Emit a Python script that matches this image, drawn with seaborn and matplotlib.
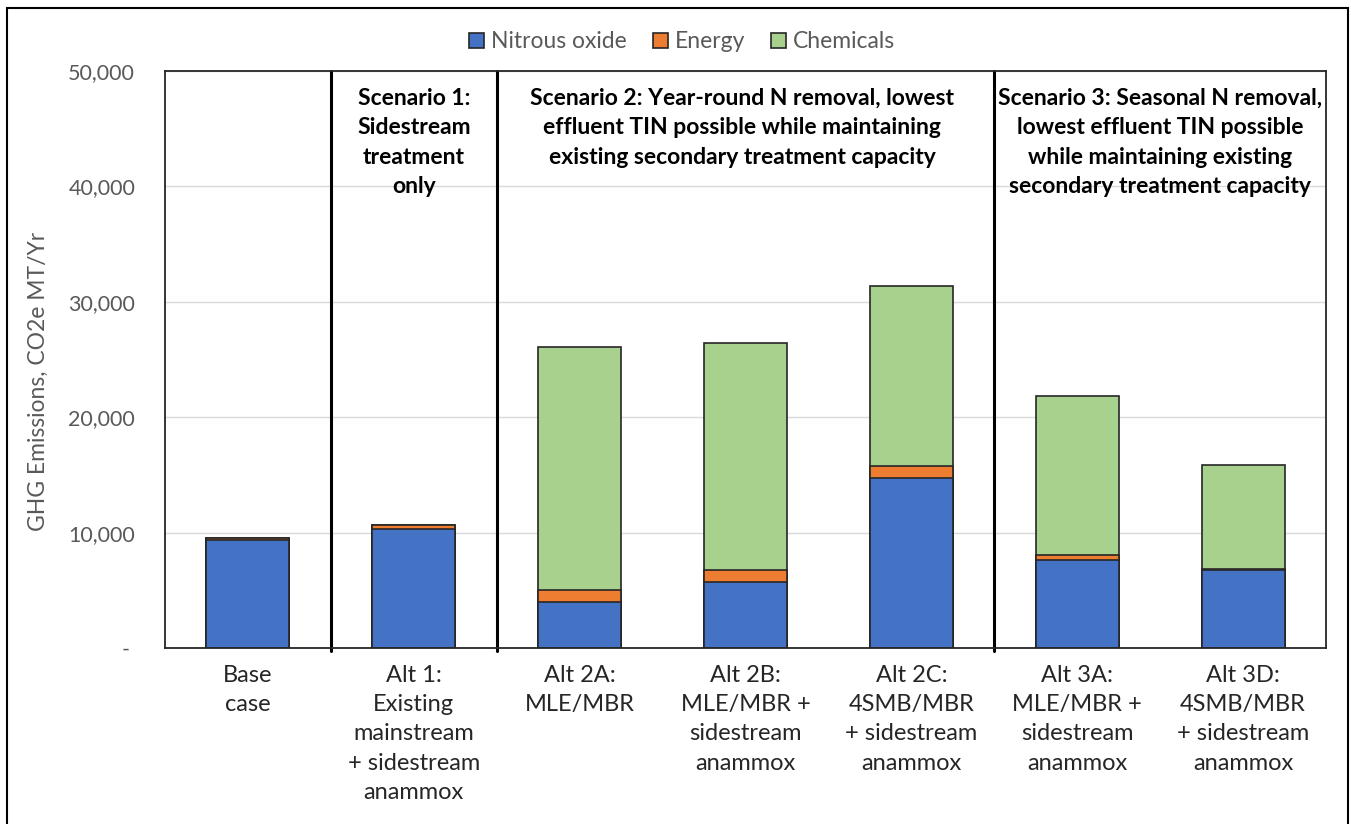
import numpy as np
import pandas as pd
import matplotlib.pyplot as plt
import seaborn as sns
from matplotlib.patches import Patch, Rectangle
from matplotlib.ticker import FuncFormatter

# ---------- Data (CO2e MT/Yr) ----------
categories = ["Base\ncase",
              "Alt 1:\nExisting\nmainstream\n+ sidestream\nanammox",
              "Alt 2A:\nMLE/MBR",
              "Alt 2B:\nMLE/MBR +\nsidestream\nanammox",
              "Alt 2C:\n4SMB/MBR\n+ sidestream\nanammox",
              "Alt 3A:\nMLE/MBR +\nsidestream\nanammox",
              "Alt 3D:\n4SMB/MBR\n+ sidestream\nanammox"]
nitrous_oxide = [9400, 10350, 4000, 5750, 14750, 7650, 6750]
energy = [120, 300, 1000, 1000, 1050, 450, 120]
chemicals = [0, 0, 21100, 19700, 15600, 13700, 9000]

scenario_labels = ["Scenario 1:\nSidestream\ntreatment\nonly",
                   "Scenario 2: Year-round N removal, lowest\neffluent TIN possible while maintaining\nexisting secondary treatment capacity",
                   "Scenario 3: Seasonal N removal,\nlowest effluent TIN possible\nwhile maintaining existing\nsecondary treatment capacity"]

series_colors = {"Nitrous oxide": "#4472C4", "Energy": "#ED7D31", "Chemicals": "#A9D18E"}

df = pd.DataFrame({"case": categories, "n2o": nitrous_oxide,
                   "energy": energy, "chem": chemicals})
df["lvl1"] = df["n2o"]
df["lvl2"] = df["n2o"] + df["energy"]
df["lvl3"] = df["lvl2"] + df["chem"]

# ---------- Style ----------
sns.set_style("white")
plt.rcParams["font.family"] = ["Lato", "DejaVu Sans"]
grey = "#595959"

W, H = 1351, 824
fig = plt.figure(figsize=(W / 100, H / 100), dpi=100)
ax = fig.add_axes([165 / W, 1 - 648 / H, (1326 - 165) / W, (648 - 71) / H])

# stacked bars: draw cumulative totals back to front
bar_kw = dict(width=0.5, edgecolor="#262626", linewidth=1.2, ax=ax, order=categories)
sns.barplot(data=df, x="case", y="lvl3", color=series_colors["Chemicals"], saturation=1, **bar_kw)
sns.barplot(data=df, x="case", y="lvl2", color=series_colors["Energy"], saturation=1, **bar_kw)
sns.barplot(data=df, x="case", y="lvl1", color=series_colors["Nitrous oxide"], saturation=1, **bar_kw)

ax.set_xlim(-0.5, len(categories) - 0.5)
ax.set_ylim(0, 50000)
ax.set_yticks(np.arange(0, 50001, 10000))
ax.yaxis.set_major_formatter(FuncFormatter(lambda v, p: "- " if v == 0 else f"{v:,.0f}"))
ax.grid(axis="y", color="#d9d9d9", linewidth=1)
ax.set_axisbelow(True)
ax.tick_params(axis="y", length=0, pad=21.5, labelsize=15.5, labelcolor=grey)
ax.tick_params(axis="x", length=0, pad=12, labelsize=17, labelcolor="#262626")
for lab in ax.get_xticklabels():
    lab.set_linespacing(1.49)
    lab.set_verticalalignment("top")
ax.set_xlabel("")
ax.set_ylabel("")
for s in ax.spines.values():
    s.set_visible(True)
    s.set_color("#262626")
    s.set_linewidth(1.3)

# scenario separators and titles
for xs in [0.5, 1.5, 4.5]:
    ax.axvline(xs, ymin=-0.005, ymax=1, color="black", linewidth=2.2, clip_on=False)
span_centers = [1.0, 2.98, 5.5]
for xc, txt in zip(span_centers, scenario_labels):
    ax.text(xc, (648 - 88) / 577, txt, transform=ax.get_xaxis_transform(),
            ha="center", va="top", fontsize=16.5, fontweight="bold",
            linespacing=1.49, color="black")

fig.text(38 / W, 1 - 381 / H, "GHG Emissions, CO2e MT/Yr", rotation=90,
         ha="center", va="center", fontsize=16.5, color=grey)

handles = [Patch(facecolor=c, edgecolor="#262626", linewidth=1.2, label=k)
           for k, c in series_colors.items()]
leg = fig.legend(handles=handles, loc="center", bbox_to_anchor=(682 / W, 1 - 42 / H),
                 ncol=3, frameon=False, fontsize=16.5, handlelength=0.65,
                 handleheight=0.65, handletextpad=0.3, columnspacing=1.15)
for t in leg.get_texts():
    t.set_color(grey)

# outer chart border
fig.patches.append(Rectangle((7 / W, -0.01), (1348 - 7) / W, 1.01 - 8 / H,
                             transform=fig.transFigure, fill=False,
                             edgecolor="black", linewidth=1.5))

fig.savefig("out.png", dpi=100)
